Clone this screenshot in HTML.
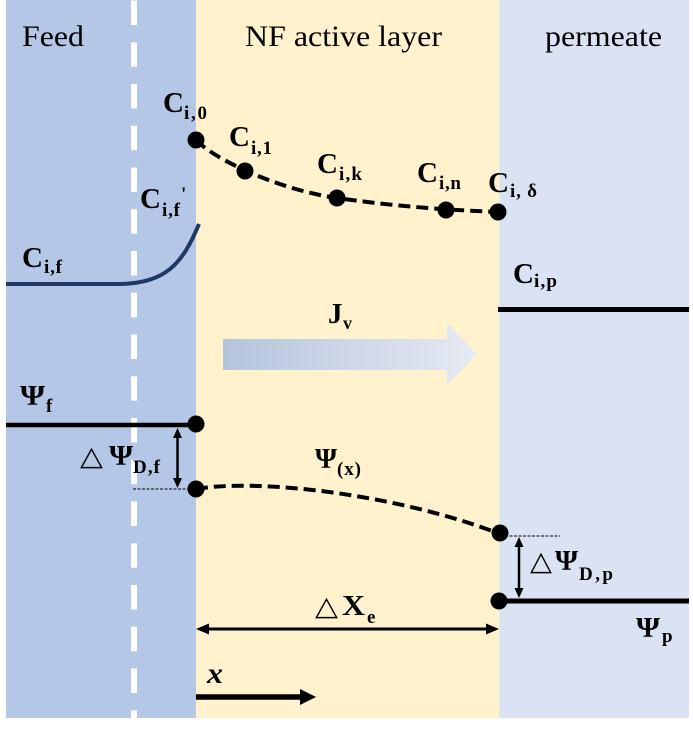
<!DOCTYPE html>
<html><head><meta charset="utf-8"><style>
html,body{margin:0;padding:0;background:#fff;}
svg{display:block;}
text{font-family:"Liberation Serif",serif;font-weight:bold;fill:#000;}
.r{font-weight:normal;}
.tri{font-family:"DejaVu Sans","Noto Sans CJK SC",sans-serif;font-weight:normal;}
</style></head><body>
<svg width="693" height="734" viewBox="0 0 693 734" xmlns="http://www.w3.org/2000/svg">
<defs>
<linearGradient id="g" x1="0" y1="0" x2="1" y2="0">
<stop offset="0" stop-color="#B4C4DC"/><stop offset="1" stop-color="#E6EAF3"/>
</linearGradient>
</defs>
<rect x="0" y="0" width="693" height="734" fill="#fff"/>
<rect x="6" y="0" width="190" height="718" fill="#B4C7E7"/>
<rect x="196" y="0" width="303.5" height="718" fill="#FFF2CC"/>
<rect x="499.5" y="0" width="189.5" height="718" fill="#DAE3F3"/>
<line x1="134" y1="0.5" x2="134" y2="718" stroke="#fff" stroke-width="6" stroke-dasharray="24.5 17.25"/>

<text class="r" x="22" y="46" font-size="30" textLength="62" lengthAdjust="spacingAndGlyphs">Feed</text>
<text class="r" x="245" y="46" font-size="30" textLength="197" lengthAdjust="spacingAndGlyphs">NF active layer</text>
<text class="r" x="545" y="46" font-size="30" textLength="117" lengthAdjust="spacingAndGlyphs">permeate</text>

<!-- concentration profile -->
<path d="M6,284 L120,284 C165,283 182,265 199,224" fill="none" stroke="#1F3864" stroke-width="4"/>
<path d="M196,140 C215,160 280,190 337,198 C400,207 450,210 498,212" fill="none" stroke="#000" stroke-width="4" stroke-dasharray="12 6"/>
<circle cx="196" cy="140" r="8.5"/>
<circle cx="245" cy="171" r="8.5"/>
<circle cx="337" cy="198" r="8.5"/>
<circle cx="446" cy="210" r="8.5"/>
<circle cx="498" cy="212" r="8.5"/>
<line x1="498" y1="309.5" x2="689" y2="309.5" stroke="#000" stroke-width="5"/>

<text x="163" y="112" font-size="29">C</text><text x="184" y="119" font-size="19" textLength="23" lengthAdjust="spacing">i,0</text>
<text x="229" y="146" font-size="29">C</text><text x="251" y="154" font-size="19" textLength="21" lengthAdjust="spacing">i,1</text>
<text x="317" y="173" font-size="29">C</text><text x="339" y="180" font-size="19" textLength="23" lengthAdjust="spacing">i,k</text>
<text x="417" y="182" font-size="29">C</text><text x="439" y="189" font-size="19" textLength="22" lengthAdjust="spacing">i,n</text>
<text x="488" y="192" font-size="29">C</text><text x="510" y="197" font-size="19" textLength="27" lengthAdjust="spacing">i, δ</text>
<text x="140" y="208" font-size="29">C</text><text x="162" y="216" font-size="19" textLength="18" lengthAdjust="spacing">i,f</text><text x="181" y="200" font-size="19">'</text>
<text x="22" y="267" font-size="29">C</text><text x="44" y="273" font-size="19" textLength="18" lengthAdjust="spacing">i,f</text>
<text x="513" y="283" font-size="29">C</text><text x="534" y="287" font-size="19" textLength="23" lengthAdjust="spacing">i,p</text>

<!-- Jv arrow -->
<text x="328" y="323" font-size="29">J</text><text x="343" y="329" font-size="18">v</text>
<path d="M223,339 L447,339 L447,323 L477,354 L447,385 L447,370 L223,370 Z" fill="url(#g)"/>

<!-- potential profile -->
<line x1="6" y1="425" x2="196" y2="425" stroke="#000" stroke-width="4.5"/>
<line x1="133" y1="489" x2="190" y2="489" stroke="#000" stroke-width="1" stroke-dasharray="3 1.5"/>
<line x1="505" y1="536" x2="560" y2="536" stroke="#000" stroke-width="1" stroke-dasharray="3 1.5"/>
<path d="M196,489 C260,478 400,495 500,534" fill="none" stroke="#000" stroke-width="4" stroke-dasharray="12 6"/>
<line x1="499" y1="601" x2="689" y2="601" stroke="#000" stroke-width="5"/>
<circle cx="196" cy="424" r="8.5"/>
<circle cx="196" cy="489" r="8.5"/>
<circle cx="500" cy="533" r="8.5"/>
<circle cx="499" cy="601" r="8.5"/>

<!-- vertical double arrows -->
<line x1="177.5" y1="436" x2="177.5" y2="480" stroke="#000" stroke-width="2.5"/>
<path d="M177.5,428 L173,438 L182,438 Z"/><path d="M177.5,488 L173,478 L182,478 Z"/>
<line x1="519" y1="545" x2="519" y2="590" stroke="#000" stroke-width="2.5"/>
<path d="M519,537 L514.5,547 L523.5,547 Z"/><path d="M519,598 L514.5,588 L523.5,588 Z"/>

<!-- horizontal double arrow -->
<line x1="206" y1="629" x2="489" y2="629" stroke="#000" stroke-width="3"/>
<path d="M196,629 L209,623.5 L209,634.5 Z"/><path d="M499,629 L486,623.5 L486,634.5 Z"/>

<!-- x arrow -->
<line x1="196" y1="697" x2="302" y2="697" stroke="#000" stroke-width="5.5"/>
<path d="M316,697 L300,689 L300,705 Z"/>

<!-- psi labels -->
<text x="20" y="405" font-size="29" textLength="25" lengthAdjust="spacingAndGlyphs">Ψ</text><text x="46" y="412" font-size="19">f</text>
<text class="tri" x="80" y="465" font-size="27" textLength="23" lengthAdjust="spacingAndGlyphs">△</text>
<text x="109" y="465" font-size="29" textLength="24" lengthAdjust="spacingAndGlyphs">Ψ</text><text x="133" y="473" font-size="19" textLength="27" lengthAdjust="spacing">D,f</text>
<text x="315" y="468" font-size="29" textLength="22" lengthAdjust="spacingAndGlyphs">Ψ</text><text x="337" y="475" font-size="19" textLength="24" lengthAdjust="spacing">(x)</text>
<text class="tri" x="530" y="570" font-size="27" textLength="22" lengthAdjust="spacingAndGlyphs">△</text>
<text x="555" y="570" font-size="29" textLength="23" lengthAdjust="spacingAndGlyphs">Ψ</text><text x="579" y="580" font-size="19" textLength="34" lengthAdjust="spacing">D,p</text>
<text x="636" y="637" font-size="29" textLength="24" lengthAdjust="spacingAndGlyphs">Ψ</text><text x="662" y="642" font-size="19">p</text>
<text class="tri" x="315" y="615" font-size="27" textLength="23" lengthAdjust="spacingAndGlyphs">△</text>
<text x="342" y="615" font-size="29" textLength="23" lengthAdjust="spacingAndGlyphs">X</text><text x="367" y="623" font-size="19">e</text>
<text x="207" y="683" font-size="30" font-style="italic" textLength="16" lengthAdjust="spacingAndGlyphs">x</text>
</svg>
</body></html>
